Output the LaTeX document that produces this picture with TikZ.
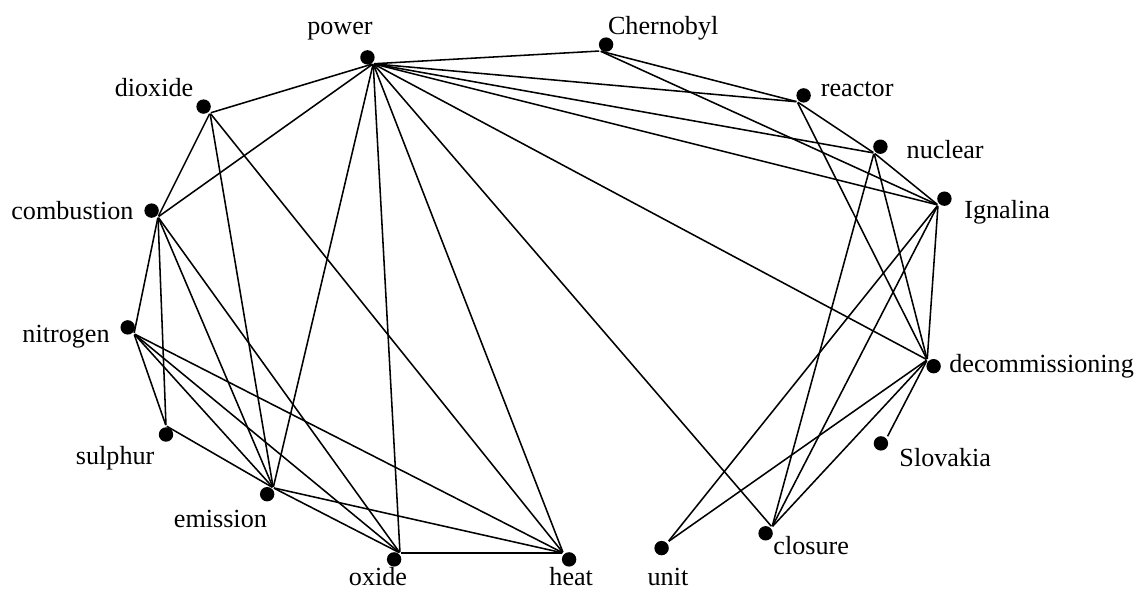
\documentclass[tikz,border=0pt]{standalone}
\usepackage{fontspec}
\setmainfont{Liberation Serif}
\tikzset{
	vertex/.style	= {inner sep=0pt, minimum size=0pt},
	dot/.style	= {circle, fill=black, inner sep=0pt, minimum size=0.36cm},
	word/.style	= {anchor=base, inner sep=0pt, font=\fontsize{18.6}{22}\selectfont},
}
\begin{document}
\begin{tikzpicture}[line width=1.1pt, label distance=0pt]
	\useasboundingbox (0,0) rectangle (28.5,14.725);
	% terms
	\node (power)	at ( 9.33, 13.13)	[vertex, label={[dot]98:}]	{};
	\node (chern)	at (15.00, 13.45)	[vertex, label={[dot]60:}]	{};
	\node (reactor)	at (19.93, 12.18)	[vertex, label={[dot]45:}]	{};
	\node (nuclear)	at (21.85, 10.90)	[vertex, label={[dot]40:}]	{};
	\node (ignal)	at (23.45,  9.60)	[vertex, label={[dot]41:}]	{};
	\node (decom)	at (23.18,  5.73)	[vertex, label={[dot]-45:}]	{};
	\node (slovak)	at (22.18,  3.80)	[vertex, label={[dot]-130:}]	{};
	\node (closure)	at (19.30,  1.55)	[vertex, label={[dot]-139:}]	{};
	\node (unit)	at (16.70,  1.18)	[vertex, label={[dot]-140:}]	{};
	\node (heat)	at (14.08,  0.90)	[vertex, label={[dot]-72:}]	{};
	\node (oxide)	at (10.00,  0.90)	[vertex, label={[dot]-108:}]	{};
	\node (emiss)	at ( 6.83,  2.53)	[vertex, label={[dot]-117:}]	{};
	\node (sulph)	at ( 4.15,  4.08)	[vertex, label={[dot]-90:}]	{};
	\node (nitro)	at ( 3.35,  6.38)	[vertex, label={[dot]131:}]	{};
	\node (combust)	at ( 3.95,  9.30)	[vertex, label={[dot]135:}]	{};
	\node (dioxide)	at ( 5.25, 11.90)	[vertex, label={[dot]135:}]	{};
	% words
	\node (power-w)		at ( 8.50, 13.85)	[word]	{power};
	\node (chern-w)		at (16.58, 13.85)	[word]	{Chernobyl};
	\node (reactor-w)	at (21.43, 12.30)	[word]	{reactor};
	\node (nuclear-w)	at (23.63, 10.75)	[word]	{nuclear};
	\node (ignal-w)		at (25.18,  9.25)	[word]	{Ignalina};
	\node (decom-w)		at (26.04,  5.40)	[word]	{decommissioning};
	\node (slovak-w)	at (23.63,  3.05)	[word]	{Slovakia};
	\node (closure-w)	at (20.28,  0.85)	[word]	{closure};
	\node (unit-w)		at (16.70,  0.10)	[word]	{unit};
	\node (heat-w)		at (14.28,  0.10)	[word]	{heat};
	\node (oxide-w)		at ( 9.45,  0.10)	[word]	{oxide};
	\node (emiss-w)		at ( 5.51,  1.53)	[word]	{emission};
	\node (sulph-w)		at ( 2.88,  3.10)	[word]	{sulphur};
	\node (nitro-w)		at ( 1.65,  6.15)	[word]	{nitrogen};
	\node (combust-w)	at ( 1.81,  9.23)	[word]	{combustion};
	\node (dioxide-w)	at ( 3.85, 12.30)	[word]	{dioxide};
	% links
	\draw (power) -- (chern);
	\draw (power) -- (reactor);
	\draw (power) -- (nuclear);
	\draw (power) -- (ignal);
	\draw (power) -- (decom);
	\draw (power) -- (closure);
	\draw (power) -- (heat);
	\draw (power) -- (oxide);
	\draw (power) -- (emiss);
	\draw (power) -- (combust);
	\draw (power) -- (dioxide);
	\draw (dioxide) -- (combust);
	\draw (dioxide) -- (emiss);
	\draw (dioxide) -- (heat);
	\draw (combust) -- (nitro);
	\draw (combust) -- (sulph);
	\draw (combust) -- (emiss);
	\draw (combust) -- (oxide);
	\draw (nitro) -- (sulph);
	\draw (nitro) -- (emiss);
	\draw (nitro) -- (oxide);
	\draw (nitro) -- (heat);
	\draw (sulph) -- (emiss);
	\draw (emiss) -- (oxide);
	\draw (emiss) -- (heat);
	\draw (oxide) -- (heat);
	\draw (chern) -- (reactor);
	\draw (chern) -- (ignal);
	\draw (reactor) -- (nuclear);
	\draw (reactor) -- (decom);
	\draw (nuclear) -- (ignal);
	\draw (nuclear) -- (closure);
	\draw (nuclear) -- (decom);
	\draw (ignal) -- (decom);
	\draw (ignal) -- (closure);
	\draw (ignal) -- (unit);
	\draw (decom) -- (slovak);
	\draw (decom) -- (closure);
	\draw (decom) -- (unit);
\end{tikzpicture}
\end{document}
